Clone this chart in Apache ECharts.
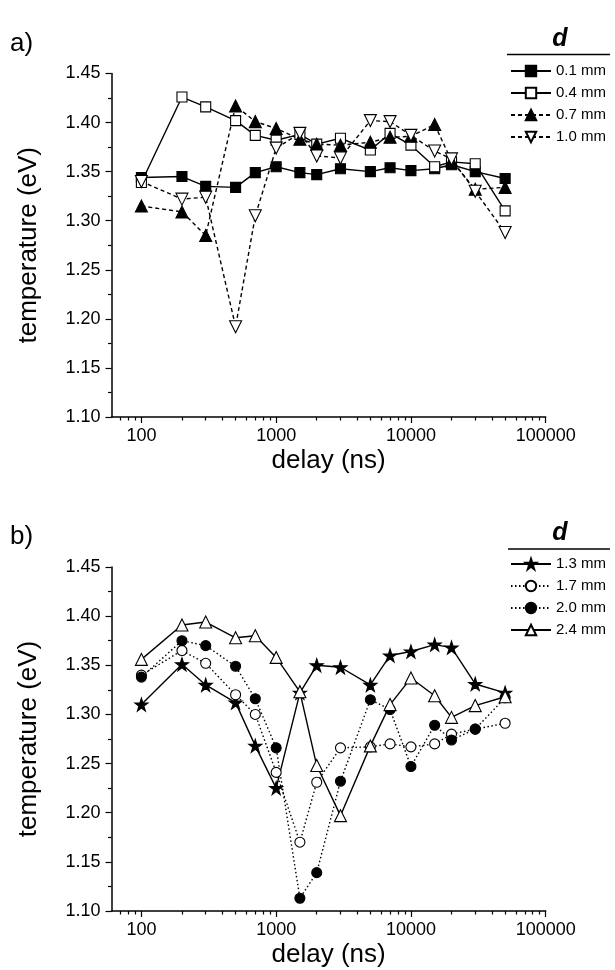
<!DOCTYPE html>
<html><head><meta charset="utf-8">
<script src="https://cdn.jsdelivr.net/npm/echarts@6/dist/echarts.min.js"></script>
<style>html,body{margin:0;padding:0;background:#fff}#c{width:615px;height:970px}</style>
</head><body><div id="c"></div>
<script>
// ---- data ----
const delays = [100, 200, 300, 500, 700, 1000, 1500, 2000, 3000, 5000, 7000, 10000, 15000, 20000, 30000, 50000];

const namesA = ['0.1 mm', '0.4 mm', '0.7 mm', '1.0 mm'];
const tempA01 = [1.344, 1.345, 1.335, 1.334, 1.349, 1.355, 1.349, 1.347, 1.353, 1.350, 1.354, 1.351, 1.353, 1.357, 1.350, 1.343];
const tempA04 = [1.339, 1.426, 1.416, 1.402, 1.387, 1.382, 1.388, 1.378, 1.384, 1.372, 1.389, 1.377, 1.355, 1.360, 1.358, 1.310];
const tempA07 = [1.315, 1.309, 1.285, 1.417, 1.401, 1.394, 1.383, 1.378, 1.377, 1.380, 1.385, 1.386, 1.398, 1.361, 1.332, 1.334];
const tempA10 = [1.340, 1.322, 1.324, 1.192, 1.305, 1.374, 1.389, 1.366, 1.364, 1.402, 1.401, 1.387, 1.371, 1.363, 1.330, 1.288];

const namesB = ['1.3 mm', '1.7 mm', '2.0 mm', '2.4 mm'];
const tempB13 = [1.310, 1.351, 1.330, 1.312, 1.268, 1.225, 1.322, 1.350, 1.348, 1.330, 1.360, 1.364, 1.371, 1.368, 1.331, 1.322];
const tempB17 = [1.340, 1.365, 1.352, 1.320, 1.300, 1.241, 1.170, 1.231, 1.266, 1.267, 1.270, 1.267, 1.270, 1.280, 1.285, 1.291];
const tempB20 = [1.338, 1.375, 1.370, 1.349, 1.316, 1.266, 1.113, 1.139, 1.232, 1.315, 1.305, 1.247, 1.289, 1.274, 1.285, 1.317];
const tempB24 = [1.356, 1.391, 1.394, 1.378, 1.380, 1.358, 1.323, 1.248, 1.197, 1.268, 1.310, 1.337, 1.319, 1.297, 1.309, 1.318];

const xMin = 60, xMax = 100000;
const xMinorTicks = [70, 80, 90, 200, 300, 400, 500, 600, 700, 800, 900,
  2000, 3000, 4000, 5000, 6000, 7000, 8000, 9000,
  20000, 30000, 40000, 50000, 60000, 70000, 80000, 90000];

// ---- styling ----
const FONT = "'Liberation Sans', Arial, sans-serif";
const STAR = 'path://M50 2 L61.8 38 L99.5 38 L69 60.3 L80.6 96.2 L50 74 L19.4 96.2 L31 60.3 L0.5 38 L38.2 38 Z';
const SOLID = 'solid', DASH = [4, 3], DOT = [1.5, 2.5];

function pairs(vals) { return delays.map((d, i) => [d, vals[i]]); }

function mk(name, vals, g, symbol, filled, lineType, size, rotate) {
  return {
    type: 'line', name: name, data: pairs(vals),
    xAxisIndex: g * 2, yAxisIndex: g,
    symbol: symbol, symbolSize: size, symbolRotate: rotate || 0, showSymbol: true,
    lineStyle: { color: '#000', width: 1.4, type: lineType },
    itemStyle: { color: filled ? '#000' : '#fff', borderColor: '#000', borderWidth: 1.1 },
    emphasis: { disabled: true }, z: 3
  };
}

function xAxes(g) {
  return [{
    type: 'log', logBase: 10, gridIndex: g, min: xMin, max: xMax,
    name: 'delay (ns)', nameLocation: 'middle', nameGap: 31,
    nameTextStyle: { fontSize: 26, fontFamily: FONT, color: '#000' },
    axisLine: { show: true, onZero: false, lineStyle: { color: '#000', width: 1.5 } },
    axisTick: { show: true, inside: false, length: 6, lineStyle: { color: '#000', width: 1.2 } },
    axisLabel: { show: true, fontSize: 18, fontFamily: FONT, color: '#000', margin: 10,
      showMinLabel: false, formatter: v => String(Math.round(v)) },
    splitLine: { show: false }, minorTick: { show: false }
  }, {
    // tick-only axis for the minor log ticks (positions in decades)
    type: 'value', gridIndex: g, min: Math.log10(xMin), max: Math.log10(xMax), position: 'bottom',
    axisLine: { show: false },
    axisTick: { show: true, inside: false, length: 3.5, customValues: xMinorTicks.map(v => Math.log10(v)),
      lineStyle: { color: '#000', width: 1.2 } },
    axisLabel: { show: false }, splitLine: { show: false }
  }];
}

function yAxis(g) {
  return {
    type: 'value', gridIndex: g, min: 1.10, max: 1.45, interval: 0.05,
    name: 'temperature (eV)', nameLocation: 'middle', nameGap: 70, nameRotate: 90,
    nameTextStyle: { fontSize: 26, fontFamily: FONT, color: '#000' },
    axisLine: { show: true, onZero: false, lineStyle: { color: '#000', width: 1.5 } },
    axisTick: { show: true, inside: false, length: 6, lineStyle: { color: '#000', width: 1.2 } },
    minorTick: { show: true, splitNumber: 2, length: 3.5, lineStyle: { color: '#000', width: 1.2 } },
    axisLabel: { fontSize: 18, fontFamily: FONT, color: '#000', margin: 11, formatter: v => v.toFixed(2) },
    splitLine: { show: false }
  };
}

function legend(names, top) {
  return {
    data: names, orient: 'vertical', left: 510, top: top, padding: 0,
    itemWidth: 40, itemHeight: 13, itemGap: 7, selectedMode: false,
    textStyle: { fontSize: 15, fontFamily: FONT, color: '#000', lineHeight: 13 }
  };
}

const chart = echarts.init(document.getElementById('c'), null, { renderer: 'canvas' });
chart.setOption({
  animation: false,
  backgroundColor: '#fff',
  grid: [
    { left: 111.5, top: 73.5, width: 434.2, height: 343.5, containLabel: false },
    { left: 111.5, top: 567, width: 434.2, height: 344, containLabel: false }
  ],
  xAxis: [...xAxes(0), ...xAxes(1)],
  yAxis: [yAxis(0), yAxis(1)],
  legend: [legend(namesA, 63.5), legend(namesB, 556.5)],
  graphic: [
    { type: 'text', left: 10, top: 31, style: { text: 'a)', font: '26px ' + FONT, fill: '#000' } },
    { type: 'text', left: 10, top: 524, style: { text: 'b)', font: '26px ' + FONT, fill: '#000' } },
    { type: 'text', x: 560, y: 39, style: { text: 'd', font: 'italic bold 25px ' + FONT, fill: '#000', align: 'center', verticalAlign: 'middle' } },
    { type: 'text', x: 560, y: 533, style: { text: 'd', font: 'italic bold 25px ' + FONT, fill: '#000', align: 'center', verticalAlign: 'middle' } },
    { type: 'line', shape: { x1: 507, y1: 54.5, x2: 610, y2: 54.5 }, style: { stroke: '#000', lineWidth: 1.5 } },
    { type: 'line', shape: { x1: 508, y1: 549, x2: 610, y2: 549 }, style: { stroke: '#000', lineWidth: 1.5 } }
  ],
  series: [
    mk(namesA[0], tempA01, 0, 'rect', true, SOLID, 10),
    mk(namesA[1], tempA04, 0, 'rect', false, SOLID, 10),
    mk(namesA[2], tempA07, 0, 'triangle', true, DASH, 12),
    mk(namesA[3], tempA10, 0, 'triangle', false, DASH, 12, 180),
    mk(namesB[0], tempB13, 1, STAR, true, SOLID, 13),
    mk(namesB[1], tempB17, 1, 'circle', false, DOT, 10),
    mk(namesB[2], tempB20, 1, 'circle', true, DOT, 10),
    mk(namesB[3], tempB24, 1, 'triangle', false, SOLID, 12)
  ]
});
</script>
</body></html>
